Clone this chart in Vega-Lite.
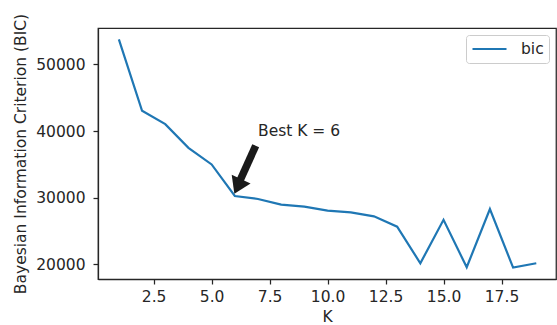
{
  "$schema": "https://vega.github.io/schema/vega-lite/v6.json",
  "autosize": "none",
  "width": 458,
  "height": 251,
  "padding": {"left": 98, "top": 28, "right": 1, "bottom": 46},
  "background": "white",
  "config": {
    "font": "DejaVu Sans",
    "view": {"stroke": "#262626", "strokeWidth": 1.25},
    "axis": {
      "grid": false,
      "domainColor": "#262626",
      "domainWidth": 1.25,
      "tickColor": "#262626",
      "tickWidth": 1.25,
      "tickSize": 5,
      "labelFont": "DejaVu Sans",
      "labelFontSize": 15.5,
      "labelColor": "#262626",
      "titleFont": "DejaVu Sans",
      "titleFontSize": 15.5,
      "titleFontWeight": "normal",
      "titleColor": "#262626"
    },
    "legend": {
      "labelFont": "DejaVu Sans",
      "labelFontSize": 15.5,
      "labelColor": "#262626"
    }
  },
  "layer": [
    {
      "data": {"values": [
        {"K": 1, "bic": 53750, "series": "bic"},
        {"K": 2, "bic": 43030, "series": "bic"},
        {"K": 3, "bic": 41030, "series": "bic"},
        {"K": 4, "bic": 37480, "series": "bic"},
        {"K": 5, "bic": 34980, "series": "bic"},
        {"K": 6, "bic": 30250, "series": "bic"},
        {"K": 7, "bic": 29800, "series": "bic"},
        {"K": 8, "bic": 28950, "series": "bic"},
        {"K": 9, "bic": 28650, "series": "bic"},
        {"K": 10, "bic": 28050, "series": "bic"},
        {"K": 11, "bic": 27800, "series": "bic"},
        {"K": 12, "bic": 27200, "series": "bic"},
        {"K": 13, "bic": 25640, "series": "bic"},
        {"K": 14, "bic": 20150, "series": "bic"},
        {"K": 15, "bic": 26670, "series": "bic"},
        {"K": 16, "bic": 19550, "series": "bic"},
        {"K": 17, "bic": 28300, "series": "bic"},
        {"K": 18, "bic": 19500, "series": "bic"},
        {"K": 19, "bic": 20150, "series": "bic"}
      ]},
      "mark": {"type": "line", "strokeWidth": 2.2},
      "encoding": {
        "x": {
          "field": "K", "type": "quantitative",
          "scale": {"domain": [0.1, 19.85], "nice": false, "zero": false},
          "axis": {"values": [2.5, 5, 7.5, 10, 12.5, 15, 17.5], "format": ".1f", "title": "K", "labelPadding": 5, "titlePadding": 5}
        },
        "y": {
          "field": "bic", "type": "quantitative",
          "scale": {"domain": [17790, 55460], "nice": false, "zero": false},
          "axis": {"values": [20000, 30000, 40000, 50000], "format": "d", "title": "Bayesian Information Criterion (BIC)", "labelPadding": 8, "titlePadding": 7}
        },
        "color": {
          "field": "series", "type": "nominal",
          "scale": {"domain": ["bic"], "range": ["#1f77b4"]},
          "legend": {
            "title": null,
            "orient": "top-right",
            "offset": 7,
            "fillColor": "white",
            "strokeColor": "#cccccc",
            "cornerRadius": 3,
            "padding": 5,
            "clipHeight": 18,
            "symbolType": "stroke",
            "symbolSize": 1156,
            "symbolStrokeWidth": 2.2,
            "labelOffset": 13
          }
        }
      }
    },
    {
      "data": {"values": [{"x": 6.9, "y": 37800, "x2": 6.19, "y2": 32300}]},
      "mark": {"type": "rule", "color": "#1a1a1a", "strokeWidth": 7.5, "strokeCap": "butt"},
      "encoding": {
        "x": {"field": "x", "type": "quantitative"},
        "y": {"field": "y", "type": "quantitative"},
        "x2": {"field": "x2"},
        "y2": {"field": "y2"}
      }
    },
    {
      "data": {"values": [{"x": 5.98, "y": 30600}]},
      "mark": {"type": "point", "shape": "M0,0 L-0.65,-1 L0.65,-1 Z", "size": 1024, "angle": 25, "filled": true, "color": "#1a1a1a", "opacity": 1},
      "encoding": {
        "x": {"field": "x", "type": "quantitative"},
        "y": {"field": "y", "type": "quantitative"}
      }
    },
    {
      "data": {"values": [{"x": 7, "y": 39300, "label": "Best K = 6"}]},
      "mark": {"type": "text", "align": "left", "baseline": "alphabetic", "fontSize": 15.5, "font": "DejaVu Sans", "color": "#262626"},
      "encoding": {
        "x": {"field": "x", "type": "quantitative"},
        "y": {"field": "y", "type": "quantitative"},
        "text": {"field": "label"}
      }
    }
  ]
}
